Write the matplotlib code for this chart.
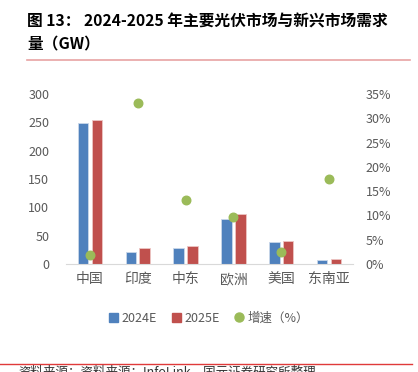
import numpy as np
import matplotlib
matplotlib.use('Agg')
import matplotlib.pyplot as plt
from matplotlib.lines import Line2D
from matplotlib.patches import Patch

plt.rcParams['font.family'] = ['Noto Sans CJK SC', 'DejaVu Sans']

# data
regions = ['中国', '印度', '中东', '欧洲', '美国', '东南亚']
demand_2024 = [249, 21, 28, 80, 39, 7.5]
demand_2025 = [254, 28, 32, 88, 40.5, 9.5]
growth_pct = [1.9, 33.2, 13.2, 9.7, 2.4, 17.6]

left_ticks = [0, 50, 100, 150, 200, 250, 300]
right_ticks = [0, 5, 10, 15, 20, 25, 30, 35]

blue = '#4F81BD'
red = '#C0504D'
green = '#9BBB59'
gray = '#595959'

fig = plt.figure(figsize=(4.18, 3.72), dpi=100)
ax = fig.add_axes([66/418, 1 - 264/372, 287/418, 170/372])
ax2 = ax.twinx()

x = np.arange(len(regions))
w = 0.22
ax.bar(x - 0.145, demand_2024, w, color=blue, edgecolor='#C9D7EA', linewidth=0.6, zorder=2)
ax.bar(x + 0.145, demand_2025, w, color=red, edgecolor='#EDC5C4', linewidth=0.6, zorder=2)
ax2.scatter(x, growth_pct, s=38, color=green, zorder=3)

ax.set_xlim(-0.5, len(regions) - 0.5)
ax.set_ylim(0, 300)
ax2.set_ylim(0, 35)
ax.set_yticks(left_ticks)
ax.set_yticklabels([str(t) for t in left_ticks])
ax2.set_yticks(right_ticks)
ax2.set_yticklabels([f'{t}%' for t in right_ticks])
ax.set_xticks(x)
ax.set_xticklabels(regions, fontweight='light')

for a in (ax, ax2):
    for s in ('top', 'left', 'right'):
        a.spines[s].set_visible(False)
    a.spines['bottom'].set_color('#D9D9D9')
ax2.spines['bottom'].set_visible(False)

ax.tick_params(axis='y', length=0, pad=12, labelsize=9, labelcolor=gray)
ax.tick_params(axis='x', length=0, pad=6, labelsize=10, labelcolor=gray)
ax2.tick_params(axis='y', length=0, pad=9, labelsize=9, labelcolor=gray)
ax2.set_zorder(ax.get_zorder() + 1)
ax2.patch.set_visible(False)

handles = [Patch(color=blue, label='2024E'),
           Patch(color=red, label='2025E'),
           Line2D([], [], marker='o', linestyle='', color=green, markersize=6.5, label='增速（%）')]
fig.legend(handles=handles, loc='center', bbox_to_anchor=(209/418, 1 - 318/372), ncol=3,
           frameon=False, fontsize=9, labelcolor=gray, handlelength=0.7, handleheight=0.7,
           handletextpad=0.3, columnspacing=1.2)

# title and rules
fig.text(27/418, 1 - 22/372, '图 13： 2024-2025 年主要光伏市场与新兴市场需求',
         fontsize=11.3, fontweight='bold', va='center', ha='left')
fig.text(27/418, 1 - 44/372, '量（GW）', fontsize=11.3, fontweight='bold', va='center', ha='left')
fig.add_artist(Line2D([27/418, 410/418], [1 - 60/372] * 2, color='#E8A3A3', linewidth=1.2))
fig.add_artist(Line2D([0, 412/418], [1 - 364/372] * 2, color='#E03A3A', linewidth=1.0))
fig.text(18/418, 1 - 366/372, '资料来源：资料来源：InfoLink，国元证券研究所整理',
         fontsize=9, va='top', ha='left', color='#333333')

fig.savefig('out.png', dpi=100)
